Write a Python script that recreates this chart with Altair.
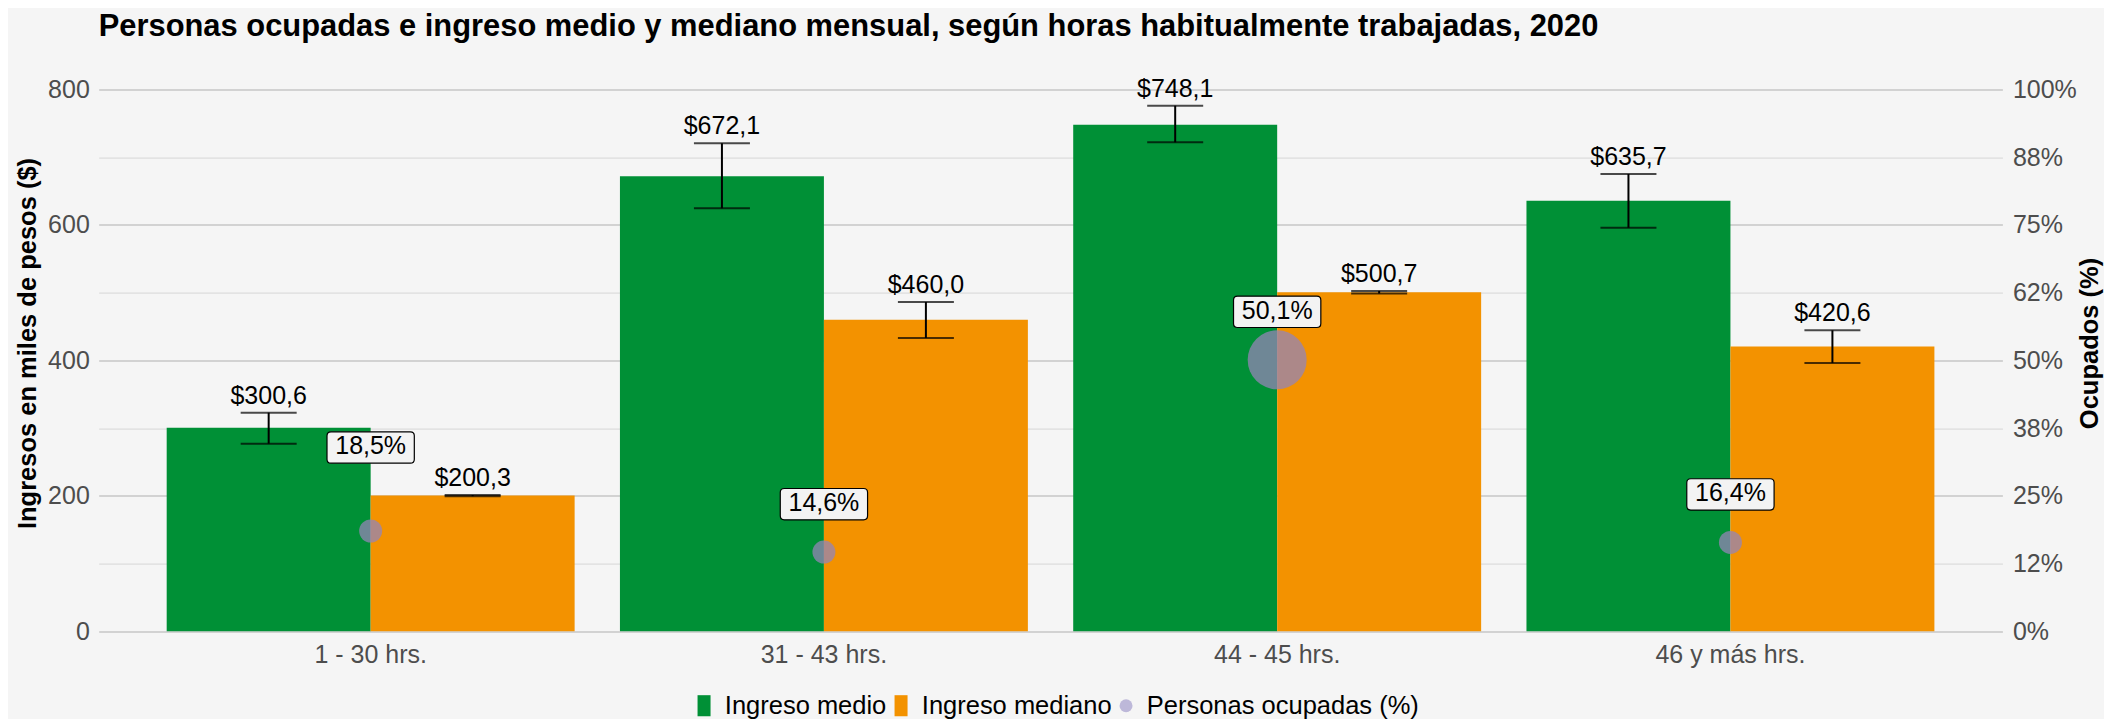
import altair as alt
import pandas as pd

FONT = "Liberation Sans"

# ---------------- data ----------------
categorias = ["1 - 30 hrs.", "31 - 43 hrs.", "44 - 45 hrs.", "46 y más hrs."]
series = ["Ingreso medio", "Ingreso mediano"]
serie_ocupados = "Personas ocupadas (%)"

ingreso_medio = [300.6, 672.1, 748.1, 635.7]
medio_inf = [277.0, 624.7, 722.2, 596.0]
medio_sup = [322.8, 720.7, 776.2, 675.3]

ingreso_mediano = [200.3, 460.0, 500.7, 420.6]
mediano_inf = [199.4, 433.1, 498.8, 396.2]
mediano_sup = [201.2, 486.3, 502.6, 444.5]

ocupados_pct = [18.5, 14.6, 50.1, 16.4]

ticks_izq = [0, 100, 200, 300, 400, 500, 600, 700, 800]
ticks_der = [0, 12.5, 25, 37.5, 50, 62.5, 75, 87.5, 100]
etiquetas_der = ["0%", "12%", "25%", "38%", "50%", "62%", "75%", "88%", "100%"]

titulo = "Personas ocupadas e ingreso medio y mediano mensual, según horas habitualmente trabajadas, 2020"

ingresos = pd.DataFrame({
    "cat": categorias * 2,
    "serie": [series[0]] * 4 + [series[1]] * 4,
    "valor": ingreso_medio + ingreso_mediano,
    "inf": medio_inf + mediano_inf,
    "sup": medio_sup + mediano_sup,
})
ocupados = pd.DataFrame({"cat": categorias, "pct": ocupados_pct})
leyenda_df = pd.DataFrame({"serie": series + [serie_ocupados]})

# ---------------- styles ----------------
VERDE = "#009036"
NARANJA = "#F39200"
LAVANDA = "#9484B7"
RECT = "M-1,-1.62L1,-1.62L1,1.62L-1,1.62Z"
BOX = ("M-2.533,-1L2.533,-1Q2.789,-1 2.789,-0.744L2.789,0.744Q2.789,1 2.533,1"
       "L-2.533,1Q-2.789,1 -2.789,0.744L-2.789,-0.744Q-2.789,-1 -2.533,-1Z")

W, H = 1903.7, 541.6

x_axis = alt.Axis(title=None, labelFontSize=25, labelColor="#4D4D4D", labelPadding=11,
                  ticks=False, tickSize=0, domain=False, grid=False, labelAngle=0, labelFont=FONT)
X = alt.X("cat:N", scale=alt.Scale(domain=categorias, paddingInner=0.1, paddingOuter=0.15), axis=x_axis)
XO = alt.XOffset("serie:N", scale=alt.Scale(domain=series, paddingInner=0, paddingOuter=0))

left_axis = alt.Axis(
    title="Ingresos en miles de pesos ($)", values=ticks_izq,
    labelExpr="datum.value % 200 === 0 ? datum.label : ''",
    labelFontSize=25, labelColor="#4D4D4D", labelPadding=9.4, labelFont=FONT,
    ticks=False, tickSize=0, domain=False, grid=True,
    gridColor={"condition": {"test": "datum.value % 200 === 0", "value": "#C6C6C6"}, "value": "#DCDCDC"},
    gridWidth={"condition": {"test": "datum.value % 200 === 0", "value": 1.5}, "value": 1.1},
    titleFontSize=25.5, titleFontWeight="bold", titleColor="black", titleFont=FONT,
    titleAngle=270, titleX=-70.7, titleY=253.4, titleAlign="center", titleBaseline="middle",
)
y_left_scale = alt.Scale(domain=[0, 800], nice=False, zero=True)

arr = "[" + ",".join("'" + s + "'" for s in etiquetas_der) + "]"
right_axis = alt.Axis(
    orient="right", title="Ocupados (%)", values=ticks_der,
    labelExpr=arr + "[round(datum.value / 12.5)]",
    labelFontSize=25, labelColor="#4D4D4D", labelPadding=10, labelFont=FONT,
    ticks=False, tickSize=0, domain=False, grid=False,
    titleFontSize=25.5, titleFontWeight="bold", titleColor="black", titleFont=FONT,
    titleAngle=270, titleX=87, titleY=253.4, titleAlign="center", titleBaseline="middle",
)
y_right_scale = alt.Scale(domain=[0, 100], nice=False, zero=True)

leg = alt.Legend(title=None, orient="none", legendX=592.6, legendY=603, direction="horizontal",
                 labelFontSize=25.5, labelColor="black", labelFont=FONT, symbolSize=169,
                 labelOffset=8, columnPadding=1, labelLimit=0, padding=0,
                 symbolStrokeWidth=0, symbolOpacity=1)
dominio_leyenda = series + [serie_ocupados]
color_scale = alt.Scale(domain=dominio_leyenda, range=[VERDE, NARANJA, "#BDB8D9"])
shape_scale = alt.Scale(domain=dominio_leyenda, range=[RECT, RECT, "circle"])

# ---------------- left layers ----------------
base = alt.Chart(ingresos)

barras = base.mark_bar().encode(
    x=X, xOffset=XO,
    y=alt.Y("valor:Q", scale=y_left_scale, axis=left_axis),
    color=alt.Color("serie:N", scale=color_scale, legend=leg),
)
reglas = base.mark_rule(color="black", strokeWidth=2).encode(
    x=X, xOffset=XO,
    y=alt.Y("inf:Q", scale=y_left_scale, axis=left_axis), y2="sup:Q",
)
tope_inf = base.mark_tick(orient="horizontal", color="black", size=56, thickness=2).encode(
    x=X, xOffset=XO, y=alt.Y("inf:Q", scale=y_left_scale, axis=left_axis),
)
tope_sup = base.mark_tick(orient="horizontal", color="black", size=56, thickness=2).encode(
    x=X, xOffset=XO, y=alt.Y("sup:Q", scale=y_left_scale, axis=left_axis),
)
textos = base.transform_calculate(
    etiqueta="'$' + replace(format(datum.valor, '.1f'), '.', ',')"
).mark_text(fontSize=25, color="black", baseline="alphabetic", dy=-9, font=FONT).encode(
    x=X, xOffset=XO, y=alt.Y("sup:Q", scale=y_left_scale, axis=left_axis), text="etiqueta:N",
)
dummy = alt.Chart(leyenda_df).mark_point(filled=True, opacity=0).encode(
    color=alt.Color("serie:N", scale=color_scale, legend=leg),
    shape=alt.Shape("serie:N", scale=shape_scale, legend=leg),
)
izq = alt.layer(barras, reglas, tope_inf, tope_sup, textos, dummy)

# ---------------- right layers ----------------
base_d = alt.Chart(ocupados).transform_calculate(
    pos_etiqueta="datum.pct + 8.86 + (datum.cat === '1 - 30 hrs.' ? 6.56 : 0)",
    etiqueta="replace(format(datum.pct, '.1f'), '.', ',') + '%'",
)
circulos = base_d.mark_circle(color=LAVANDA, opacity=0.75).encode(
    x=X,
    y=alt.Y("pct:Q", scale=y_right_scale, axis=right_axis),
    size=alt.Size("pct:Q", scale=alt.Scale(domain=[18.5, 50.1], range=[529, 3481], clamp=True), legend=None),
)
cajas = base_d.mark_point(shape=BOX, filled=True, fill="#F3F3F3", stroke="black",
                          strokeWidth=1.2, size=980, opacity=1).encode(
    x=X, y=alt.Y("pos_etiqueta:Q", scale=y_right_scale, axis=right_axis),
)
textos_d = base_d.mark_text(fontSize=25, color="black", baseline="middle", dy=-1, font=FONT).encode(
    x=X, y=alt.Y("pos_etiqueta:Q", scale=y_right_scale, axis=right_axis), text="etiqueta:N",
)
der = alt.layer(circulos, cajas, textos_d)

chart = alt.layer(izq, der).resolve_scale(y="independent").properties(
    width=W, height=H,
    title=alt.TitleParams(text=titulo, anchor="start", frame="group", fontSize=30.9,
                          fontWeight="bold", color="black", font=FONT, offset=10,
                          baseline="alphabetic"),
    padding={"left": 90.7, "top": 81.6, "right": 102, "bottom": 87.6},
    autosize=alt.AutoSizeParams(type="none"),
).configure(background="#F5F5F5", font=FONT).configure_view(stroke=None)

chart.save("out.html", embed_options={"renderer": "svg", "actions": False})
